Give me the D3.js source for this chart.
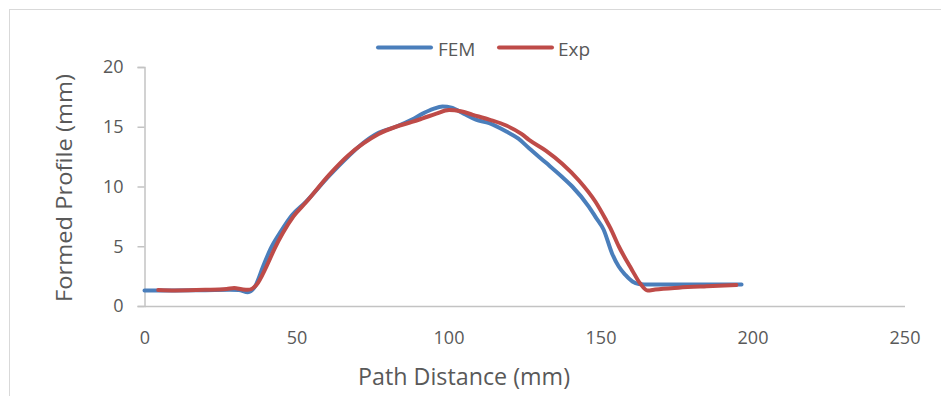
<!DOCTYPE html>
<html>
<head>
<meta charset="utf-8">
<script src="https://cdn.jsdelivr.net/npm/d3@7/dist/d3.min.js"></script>
<style>
  html, body { margin: 0; padding: 0; background: #ffffff; }
  svg { display: block; font-family: "Open Sans", "Noto Sans", sans-serif; }
</style>
</head>
<body>
<svg id="chart" width="941" height="396"></svg>
<script>
// Formed profile along the path: simulation vs. measurement
const seriesNames = ["FEM", "Exp"];
const seriesColors = ["#4a7ebb", "#be4b48"];

const femDistance = [0, 10, 20, 28, 31, 34, 36.5, 39, 41.5, 44.5, 48.5, 53, 60.8, 67, 71.7, 77, 82.7, 88, 91.5, 95, 98, 101, 105, 109, 113.4, 119, 123, 126.5, 132, 137.4, 140.7, 146.2, 148.5, 151, 153.8, 156, 158.2, 160.5, 162.6, 166, 175, 185, 196.4];
const femProfile  = [1.3, 1.3, 1.32, 1.35, 1.33, 1.15, 1.7, 3.3, 4.8, 6.1, 7.6, 8.7, 10.9, 12.5, 13.6, 14.5, 15.0, 15.6, 16.1, 16.5, 16.7, 16.6, 16.1, 15.6, 15.3, 14.6, 14.0, 13.2, 12.0, 10.8, 10.0, 8.3, 7.4, 6.4, 4.4, 3.3, 2.6, 2.05, 1.85, 1.8, 1.8, 1.8, 1.8];

const expDistance = [4.5, 10, 20, 27, 29.5, 32, 34, 36.8, 40.1, 42.8, 45.5, 49, 53.2, 60.8, 67, 72, 77, 82.7, 88, 91.5, 96, 100.2, 104, 108, 113.4, 119, 124, 126.5, 132, 137.4, 142.9, 148.4, 151.6, 153.3, 156, 160.4, 163, 165.5, 168, 175.7, 185, 194.7];
const expProfile  = [1.34, 1.3, 1.35, 1.42, 1.5, 1.4, 1.35, 1.76, 3.3, 4.8, 6.1, 7.5, 8.7, 11.0, 12.6, 13.6, 14.4, 15.0, 15.4, 15.7, 16.1, 16.4, 16.3, 16.0, 15.6, 15.1, 14.4, 13.9, 13.0, 11.9, 10.5, 8.7, 7.3, 6.5, 5.0, 3.0, 1.9, 1.3, 1.38, 1.53, 1.65, 1.76];

const xTicks = [0, 50, 100, 150, 200, 250];
const yTicks = [0, 5, 10, 15, 20];
const xTitle = "Path Distance (mm)";
const yTitle = "Formed Profile (mm)";

const svg = d3.select("#chart");
const axisColor = "#c3c3c3";
const textColor = "#595959";

// outer frame
svg.append("rect")
  .attr("x", 9.5).attr("y", 9.5)
  .attr("width", 960).attr("height", 420)
  .attr("fill", "none")
  .attr("stroke", "#d9d9d9")
  .attr("stroke-width", 1);

const x = d3.scaleLinear().domain([0, 250]).range([144.5, 904.5]);
const y = d3.scaleLinear().domain([0, 20]).range([306, 67]);

// y axis: line and outward ticks
const yAxis = svg.append("g")
  .attr("transform", `translate(${x(0)},0)`)
  .call(d3.axisLeft(y).tickValues(yTicks).tickSize(7).tickPadding(14).tickFormat(d3.format("d")));
yAxis.select(".domain").attr("stroke", axisColor).attr("stroke-width", 1.5);
yAxis.selectAll(".tick line").attr("stroke", axisColor).attr("stroke-width", 1.5);
yAxis.selectAll(".tick text")
  .attr("fill", textColor)
  .style("font-size", "18px")
  .style("font-family", "'Open Sans', sans-serif");

// x axis: line only, labels below
const xAxis = svg.append("g")
  .attr("transform", `translate(0,${y(0)})`)
  .call(d3.axisBottom(x).tickValues(xTicks).tickSize(0).tickPadding(25).tickFormat(d3.format("d")));
xAxis.select(".domain").attr("stroke", axisColor).attr("stroke-width", 1.5);
xAxis.selectAll(".tick text")
  .attr("fill", textColor)
  .style("font-size", "18px")
  .style("font-family", "'Open Sans', sans-serif");

// axis titles
svg.append("text")
  .attr("x", 464).attr("y", 385)
  .attr("text-anchor", "middle")
  .attr("fill", textColor)
  .attr("textLength", 212)
  .attr("lengthAdjust", "spacingAndGlyphs")
  .style("font-size", "23px")
  .text(xTitle);

svg.append("text")
  .attr("transform", "translate(72,188) rotate(-90)")
  .attr("text-anchor", "middle")
  .attr("fill", textColor)
  .attr("textLength", 228)
  .attr("lengthAdjust", "spacingAndGlyphs")
  .style("font-size", "22px")
  .text(yTitle);

// series lines
const line = d3.line()
  .x(d => x(d[0]))
  .y(d => y(d[1]))
  .curve(d3.curveMonotoneX);

const series = [
  d3.zip(femDistance, femProfile),
  d3.zip(expDistance, expProfile)
];

series.forEach((pts, i) => {
  svg.append("path")
    .datum(pts)
    .attr("d", line)
    .attr("fill", "none")
    .attr("stroke", seriesColors[i])
    .attr("stroke-width", 4)
    .attr("stroke-linejoin", "round")
    .attr("stroke-linecap", "round");
});

// legend
const legendItems = [
  { name: seriesNames[0], color: seriesColors[0], x0: 378, x1: 431, tx: 438 },
  { name: seriesNames[1], color: seriesColors[1], x0: 499, x1: 552, tx: 558 }
];
const legend = svg.append("g");
legendItems.forEach(it => {
  legend.append("line")
    .attr("x1", it.x0).attr("x2", it.x1)
    .attr("y1", 47.5).attr("y2", 47.5)
    .attr("stroke", it.color)
    .attr("stroke-width", 4)
    .attr("stroke-linecap", "round");
  legend.append("text")
    .attr("x", it.tx).attr("y", 56)
    .attr("fill", textColor)
    .style("font-size", "19px")
    .text(it.name);
});
</script>
</body>
</html>
